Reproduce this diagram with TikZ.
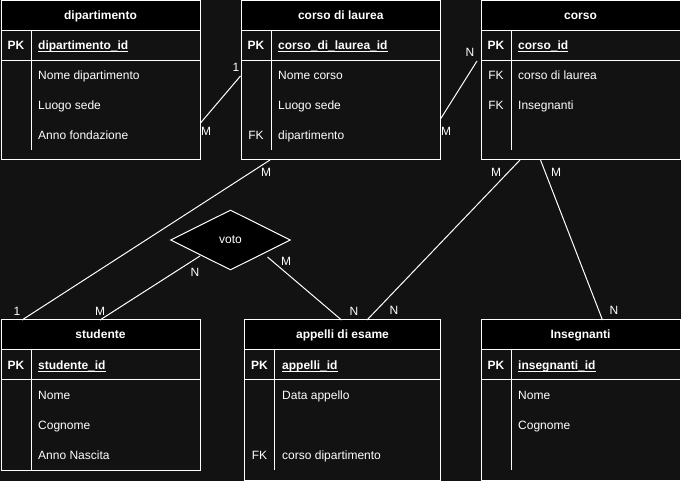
\documentclass[tikz,border=0pt]{standalone}
\usepackage{fontspec}
\setmainfont{Liberation Sans}
\usetikzlibrary{shapes.geometric}
\definecolor{bg}{HTML}{121212}
\newcommand{\myul}[1]{\setbox0\hbox{#1}\rlap{\rule[-2pt]{\wd0}{0.9pt}}\box0}
\newcommand{\erframe}[6]{% name, left, top, width, height, title
  \node[tbody, minimum width=#4, minimum height=#5] (#1) at (#2,#3) {};
  \node[thead, minimum width=#4, minimum height=30] (#1H) at (#2,#3) {#6};
  \draw[rule] (#2,#3+60) -- ++(#4,0);
}
\begin{document}
\begin{tikzpicture}[x=1pt,y=-1pt,
  font=\fontsize{12}{14}\selectfont,
  tbody/.style={draw=white, fill=bg, line width=1pt, inner sep=0, outer sep=0, anchor=north west},
  thead/.style={draw=white, fill=black, line width=1pt, inner sep=0, outer sep=0, anchor=north west, text=white, text height=10.5pt, text depth=2.5pt, font=\fontsize{12}{14}\selectfont\bfseries},
  rule/.style={draw=white, line width=1pt},
  keyc/.style={text=white, inner sep=0, text height=11pt, text depth=2pt, font=\fontsize{12}{14}\selectfont\bfseries},
  fkc/.style={text=white, inner sep=0, text height=11pt, text depth=2pt},
  fld/.style={text=white, anchor=west, inner sep=0, text height=11pt, text depth=2pt},
  pkf/.style={text=white, anchor=west, inner sep=0, text height=11pt, text depth=2pt, font=\fontsize{12}{14}\selectfont\bfseries},
  conn/.style={draw=white, line width=1pt},
  card/.style={text=white, inner sep=0}]
\useasboundingbox (0,0) rectangle (681,481);
\fill[bg] (0,0) rectangle (681,481);

% ---------- dipartimento
\erframe{dip}{1}{0.5}{199}{159.5}{dipartimento}
\draw[rule] (31,30.5) -- (31,150);
\node[keyc] (dipPK) at (16,45) {PK};
\node[pkf] (dipF0) at (38,45) {\myul{dipartimento\_id}};
\node[fld] (dipF1) at (38,75) {Nome dipartimento};
\node[fld] (dipF2) at (38,105) {Luogo sede};
\node[fld] (dipF3) at (38,135) {Anno fondazione};

% ---------- corso di laurea
\erframe{cdl}{241}{0.5}{199.5}{159.5}{corso di laurea}
\draw[rule] (271,30.5) -- (271,150);
\node[keyc] (cdlPK) at (256,45) {PK};
\node[pkf] (cdlF0) at (278,45) {\myul{corso\_di\_laurea\_id}};
\node[fld] (cdlF1) at (278,75) {Nome corso};
\node[fld] (cdlF2) at (278,105) {Luogo sede};
\node[fkc] (cdlFK) at (256,135) {FK};
\node[fld] (cdlF3) at (278,135) {dipartimento};

% ---------- corso
\erframe{cor}{481}{0.5}{199}{159.5}{corso}
\draw[rule] (511,30.5) -- (511,150);
\node[keyc] (corPK) at (496,45) {PK};
\node[pkf] (corF0) at (518,45) {\myul{corso\_id}};
\node[fkc] (corFK1) at (496,75) {FK};
\node[fld] (corF1) at (518,75) {corso di laurea};
\node[fkc] (corFK2) at (496,105) {FK};
\node[fld] (corF2) at (518,105) {Insegnanti};

% ---------- studente
\erframe{stu}{1}{320}{199}{150}{studente}
\draw[rule] (31,350) -- (31,470);
\node[keyc] (stuPK) at (16,365) {PK};
\node[pkf] (stuF0) at (38,365) {\myul{studente\_id}};
\node[fld] (stuF1) at (38,395) {Nome};
\node[fld] (stuF2) at (38,425) {Cognome};
\node[fld] (stuF3) at (38,455) {Anno Nascita};

% ---------- appelli di esame
\erframe{app}{244.5}{320}{196}{160}{appelli di esame}
\draw[rule] (274.5,350) -- (274.5,470);
\node[keyc] (appPK) at (259.5,365) {PK};
\node[pkf] (appF0) at (282,365) {\myul{appelli\_id}};
\node[fld] (appF1) at (282,395) {Data appello};
\node[fkc] (appFK) at (259.5,455) {FK};
\node[fld] (appF2) at (282,455) {corso dipartimento};

% ---------- Insegnanti
\erframe{ins}{481}{320}{199}{160}{Insegnanti}
\draw[rule] (511,350) -- (511,470);
\node[keyc] (insPK) at (496,365) {PK};
\node[pkf] (insF0) at (518,365) {\myul{insegnanti\_id}};
\node[fld] (insF1) at (518,395) {Nome};
\node[fld] (insF2) at (518,425) {Cognome};

% ---------- relationship
\node[diamond, draw=white, fill=black, line width=1pt, text=white, minimum width=120, minimum height=60, inner sep=0] (voto) at (230.5,240) {voto};

% ---------- connector end points
\coordinate (c1a) at (200.5,123); \coordinate (c1b) at (240.5,76);
\coordinate (c2a) at (440.5,119); \coordinate (c2b) at (477,61);
\coordinate (c3a) at (270,160); \coordinate (c3b) at (22,320);
\coordinate (c4a) at (200,256); \coordinate (c4b) at (100,320);
\coordinate (c5a) at (267.5,257); \coordinate (c5b) at (341.5,320);
\coordinate (c6a) at (520,160); \coordinate (c6b) at (367,320);
\coordinate (c7a) at (540.5,160); \coordinate (c7b) at (602.5,320);

\draw[conn] (c1a) -- (c1b);
\draw[conn] (c2a) -- (c2b);
\draw[conn] (c3a) -- (c3b);
\draw[conn] (c4a) -- (c4b);
\draw[conn] (c5a) -- (c5b);
\draw[conn] (c6a) -- (c6b);
\draw[conn] (c7a) -- (c7b);

% ---------- cardinalities
\node[card] (l1a) at (206,131) {M};
\node[card] (l1b) at (236,67) {1};
\node[card] (l2a) at (446,131) {M};
\node[card] (l2b) at (470,52) {N};
\node[card] (l3a) at (266,172) {M};
\node[card] (l3b) at (17,311) {1};
\node[card] (l4a) at (195,272) {N};
\node[card] (l4b) at (100,311) {M};
\node[card] (l5a) at (286,261) {M};
\node[card] (l5b) at (354,311) {N};
\node[card] (l6a) at (496,172) {M};
\node[card] (l6b) at (394,310) {N};
\node[card] (l7a) at (556,172) {M};
\node[card] (l7b) at (614,310) {N};
\end{tikzpicture}
\end{document}
